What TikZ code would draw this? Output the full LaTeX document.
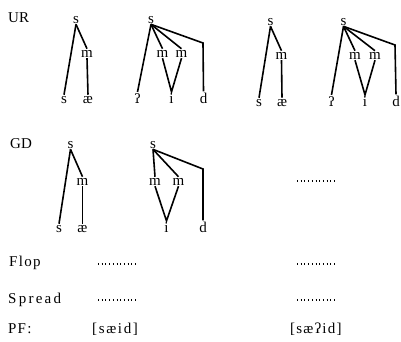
\documentclass[tikz,border=0pt]{standalone}
\usepackage{fontspec}
\setmainfont{Liberation Serif}
\newfontfamily\glotfont{DejaVu Serif}
\begin{document}
\begin{tikzpicture}[x=1pt,y=-1pt,
  seg/.style={anchor=base,inner sep=1pt,font=\fontsize{15}{17}\selectfont},
  glot/.style={anchor=base,inner sep=1pt,font=\glotfont\fontsize{13}{15}\selectfont},
  lab/.style={anchor=base west,inner sep=0pt,font=\fontsize{15}{17}\selectfont},
  br/.style={line width=1.6pt},
  dots/.style={line width=1.2pt,dash pattern=on 1pt off 2.7pt}]
\useasboundingbox (0,0) rectangle (401,341);
% labels
\node[lab] (lUR) at (8,22) {UR};
\node[lab] (lGD) at (10,148) {GD};
\node[lab] (lFlop) at (9,266) {\addfontfeature{LetterSpace=9}Flop};
\node[lab] (lSpread) at (8,303) {\addfontfeature{LetterSpace=15}Spread};
\node[lab] (lPF) at (8,333) {\addfontfeature{LetterSpace=8}PF:};
\node[lab] (pf1) at (92,333) {\addfontfeature{LetterSpace=11}[sæid]};
\node[lab] (pf2) at (290,333) {\addfontfeature{LetterSpace=8}[sæʔid]};
% UR tree 1
\node[seg] (a1) at (76,23) {s};
\node[seg] (a2) at (87,57) {m};
\node[seg] (a3) at (64,103) {s};
\node[seg] (a4) at (88,103) {æ};
\draw[br] (a1.south) -- (a3.north);
\draw[br] (a1.south) -- (a2.north);
\draw[br] (a2.south) -- (a4.north);
% UR tree 2
\node[seg] (b1) at (151,23) {s};
\node[seg] (b2) at (162.5,57) {m};
\node[seg] (b3) at (181.5,57) {m};
\node[glot] (b4) at (137.5,103) {ʔ};
\node[seg] (b5) at (171.5,103) {i};
\node[seg] (b6) at (203.5,103) {d};
\coordinate (bc) at (203,43);
\draw[br] (b1.south) -- (b4.north);
\draw[br] (b1.south) -- (b2.north);
\draw[br] (b1.south) -- (b3.north);
\draw[br] (b1.south) -- (bc) -- (b6.north);
\draw[br] (b2.south) -- (b5.north) -- (b3.south);
% UR tree 3
\node[seg] (c1) at (270.5,25) {s};
\node[seg] (c2) at (281.5,59) {m};
\node[seg] (c3) at (259,106) {s};
\node[seg] (c4) at (282,106) {æ};
\draw[br] (c1.south) -- (c3.north);
\draw[br] (c1.south) -- (c2.north);
\draw[br] (c2.south) -- (c4.north);
% UR tree 4
\node[seg] (d1) at (343.5,25) {s};
\node[seg] (d2) at (355,59) {m};
\node[seg] (d3) at (375,59) {m};
\node[glot] (d4) at (331.5,106) {ʔ};
\node[seg] (d5) at (365,106) {i};
\node[seg] (d6) at (396,106) {d};
\coordinate (dc) at (395,45);
\draw[br] (d1.south) -- (d4.north);
\draw[br] (d1.south) -- (d2.north);
\draw[br] (d1.south) -- (d3.north);
\draw[br] (d1.south) -- (dc) -- (d6.north);
\draw[br] (d2.south) -- (d5.north) -- (d3.south);
% GD tree 1
\node[seg] (e1) at (70.5,148) {s};
\node[seg] (e2) at (82.5,185) {m};
\node[seg] (e3) at (59,232) {s};
\node[seg] (e4) at (82.5,232) {æ};
\draw[br] (e1.south) -- (e3.north);
\draw[br] (e1.south) -- (e2.north);
\draw[br] (e2.south) -- (e4.north);
% GD tree 2
\node[seg] (f1) at (153,148) {s};
\node[seg] (f2) at (155,185) {m};
\node[seg] (f3) at (178.5,185) {m};
\node[seg] (f5) at (166.5,232) {i};
\node[seg] (f6) at (203,232) {d};
\coordinate (fc) at (203,169);
\draw[br] (f1.south) -- (f2.north);
\draw[br] (f1.south) -- (f3.north);
\draw[br] (f1.south) -- (fc) -- (f6.north);
\draw[br] (f2.south) -- (f5.north) -- (f3.south);
% dotted placeholders
\coordinate (g1) at (297,181); \coordinate (g2) at (336,181);
\draw[dots] (g1) -- (g2);
\coordinate (h1) at (98,264); \coordinate (h2) at (137,264);
\draw[dots] (h1) -- (h2);
\coordinate (h3) at (297,264); \coordinate (h4) at (336,264);
\draw[dots] (h3) -- (h4);
\coordinate (k1) at (98,300); \coordinate (k2) at (137,300);
\draw[dots] (k1) -- (k2);
\coordinate (k3) at (297,300); \coordinate (k4) at (336,300);
\draw[dots] (k3) -- (k4);
\end{tikzpicture}
\end{document}
